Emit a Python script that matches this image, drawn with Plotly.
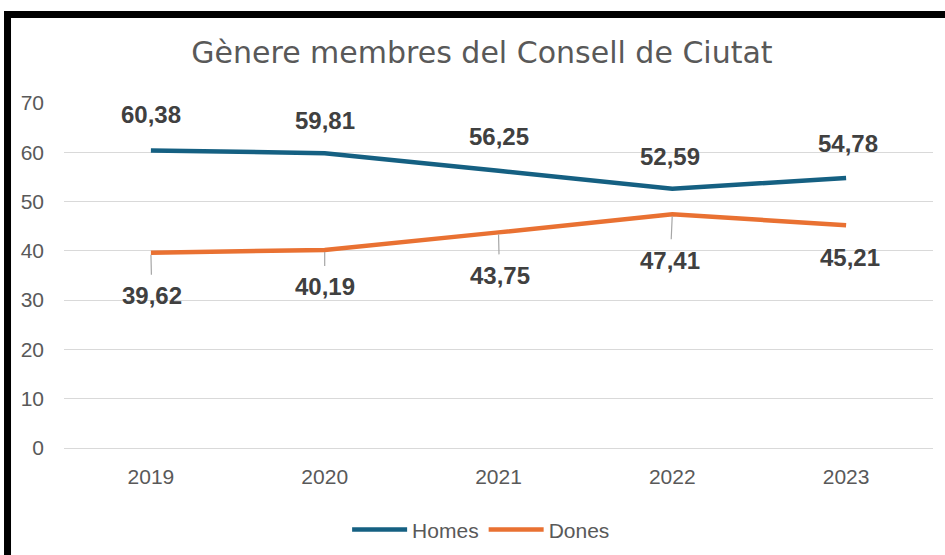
import plotly.graph_objects as go

# ---- data ----
years = ["2019", "2020", "2021", "2022", "2023"]
homes = [60.38, 59.81, 56.25, 52.59, 54.78]
dones = [39.62, 40.19, 43.75, 47.41, 45.21]
y_ticks = [0, 10, 20, 30, 40, 50, 60, 70]

# ---- styles ----
C_HOMES = "#156082"
C_DONES = "#E97132"
TXT = "#595959"
LBL = "#404040"
GRID = "#d9d9d9"

# label offsets (pixels) relative to each point
homes_off = [(0, -36), (0, -33), (0, -34), (-2, -32), (2, -35)]
dones_off = [(1, 43), (0, 37), (1, 43), (-2, 46), (4, 32)]
dones_leader = [True, True, True, True, False]


def fmt(v):
    return f"{v:.2f}".replace(".", ",")


fig = go.Figure()
fig.add_trace(go.Scatter(x=years, y=homes, mode="lines", name="Homes",
                         line=dict(color=C_HOMES, width=4.5)))
fig.add_trace(go.Scatter(x=years, y=dones, mode="lines", name="Dones",
                         line=dict(color=C_DONES, width=4.5)))

LBL_FONT = dict(family="Liberation Sans, Arial", size=24, color=LBL, weight="bold")
annotations = []
for i, v in enumerate(homes):
    ax, ay = homes_off[i]
    annotations.append(dict(x=i, y=v, xref="x", yref="y", text=fmt(v),
                            showarrow=True, ax=ax, ay=ay, arrowcolor="rgba(0,0,0,0)",
                            arrowwidth=1, arrowhead=0, font=LBL_FONT))
for i, v in enumerate(dones):
    ax, ay = dones_off[i]
    annotations.append(dict(x=i, y=v, xref="x", yref="y", text=fmt(v),
                            showarrow=True, ax=ax, ay=ay,
                            arrowcolor="#a6a6a6" if dones_leader[i] else "rgba(0,0,0,0)",
                            arrowwidth=1.2, arrowhead=0, standoff=2, startstandoff=6,
                            font=LBL_FONT))

fig.update_layout(
    width=945, height=555,
    paper_bgcolor="white", plot_bgcolor="white",
    margin=dict(l=64, r=12, t=103, b=107, autoexpand=False),
    title=dict(text="Gènere membres del Consell de Ciutat", x=0.51, xanchor="center",
               y=0.905, yanchor="middle",
               font=dict(family="DejaVu Sans", size=30, color=TXT)),
    showlegend=True,
    legend=dict(orientation="h", x=0.48, xanchor="center", y=-0.237, yanchor="middle",
                font=dict(family="Liberation Sans, Arial", size=21, color=TXT),
                itemwidth=55, bgcolor="rgba(0,0,0,0)"),
    annotations=annotations,
    shapes=[dict(type="rect", xref="paper", yref="paper",
                 x0=-0.065, x1=1.2, y0=-0.5, y1=1.2565,
                 line=dict(color="black", width=7), fillcolor="rgba(0,0,0,0)", layer="above")],
)
fig.update_xaxes(type="category", range=[-0.5, 4.5], showgrid=False, zeroline=False, showline=False,
                 ticks="", ticklabelstandoff=14,
                 tickfont=dict(family="Liberation Sans, Arial", size=21, color=TXT))
fig.update_yaxes(range=[0, 70], tickvals=y_ticks, showgrid=True, gridcolor=GRID, gridwidth=1.2,
                 zeroline=True, zerolinecolor=GRID, zerolinewidth=1.2, showline=False,
                 ticks="", ticklabelstandoff=19,
                 tickfont=dict(family="Liberation Sans, Arial", size=21, color=TXT))

fig.write_html("out.html", config={"displayModeBar": False},
               post_script="document.body.style.margin='0px';")
